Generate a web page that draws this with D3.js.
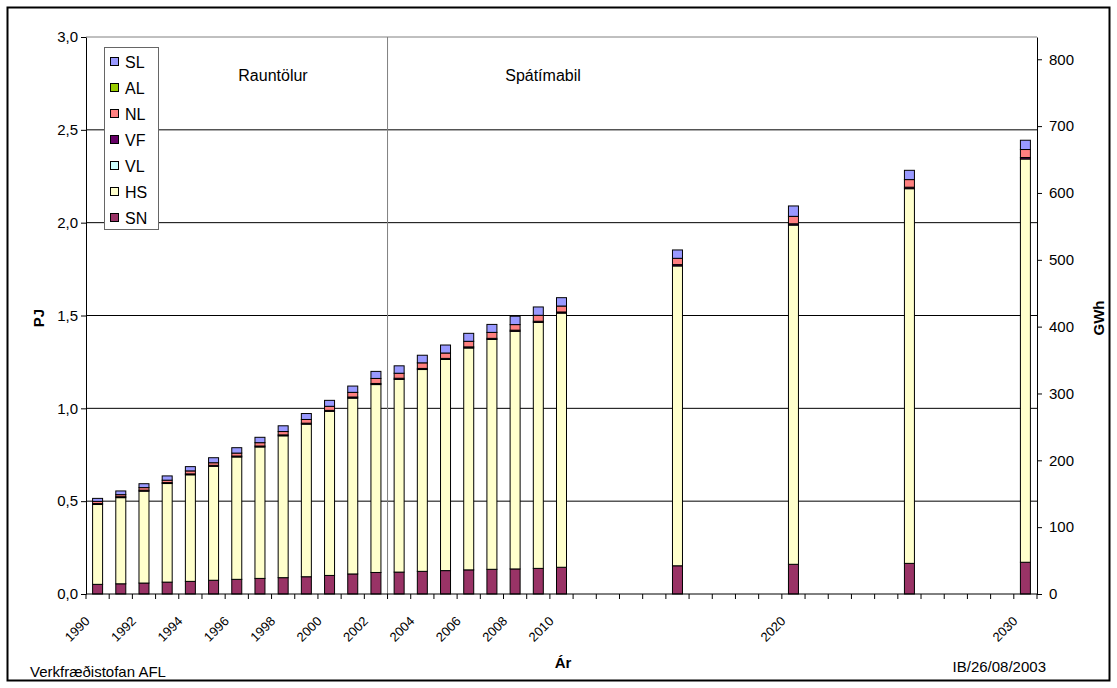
<!DOCTYPE html>
<html>
<head>
<meta charset="utf-8">
<script src="https://cdn.jsdelivr.net/npm/d3@7"></script>
<style>
  body { margin: 0; background: #fff; }
  svg { display: block; }
  text { font-family: "Liberation Sans", Arial, sans-serif; fill: #000; }
</style>
</head>
<body>
<svg id="chart" width="1117" height="688"></svg>
<script>
// Category axis: every year 1990-2030, bars only where values exist
const categories = d3.range(1990, 2031).map(String);
const years = ["1990","1991","1992","1993","1994","1995","1996","1997","1998","1999","2000",
               "2001","2002","2003","2004","2005","2006","2007","2008","2009","2010",
               "2015","2020","2025","2030"];

// Energy use by sector, PJ
const SN = [0.052,0.055,0.059,0.064,0.068,0.074,0.079,0.084,0.088,0.093,0.100,
            0.108,0.116,0.118,0.122,0.126,0.130,0.133,0.135,0.138,0.144,
            0.152,0.160,0.165,0.171];
const HS = [0.430,0.464,0.495,0.531,0.574,0.614,0.659,0.708,0.764,0.822,0.884,
            0.947,1.012,1.038,1.087,1.137,1.195,1.238,1.280,1.325,1.369,
            1.615,1.827,2.018,2.172];
const VL = [0,0,0,0,0,0,0,0,0,0,0,0,0,0,0,0,0,0,0,0,0,0,0,0,0];
const VF = [0.005,0.005,0.005,0.005,0.005,0.005,0.005,0.005,0.005,0.005,0.005,
            0.006,0.006,0.006,0.006,0.006,0.006,0.006,0.006,0.006,0.006,
            0.007,0.007,0.008,0.008];
const NL = [0.012,0.011,0.014,0.013,0.016,0.014,0.016,0.018,0.018,0.020,0.022,
            0.025,0.027,0.027,0.030,0.029,0.030,0.032,0.030,0.032,0.032,
            0.034,0.040,0.041,0.043];
const AL = [0,0,0,0,0,0,0,0,0,0,0,0,0,0,0,0,0,0,0,0,0,0,0,0,0];
const SL = [0.016,0.020,0.021,0.023,0.023,0.027,0.029,0.029,0.031,0.032,0.032,
            0.034,0.038,0.040,0.041,0.043,0.043,0.043,0.045,0.045,0.045,
            0.045,0.056,0.050,0.050];

const seriesKeys = ["SN","HS","VL","VF","NL","AL","SL"];
const seriesValues = { SN, HS, VL, VF, NL, AL, SL };
const seriesColors = { SL:"#9999FF", AL:"#99CC00", NL:"#FF8080", VF:"#660066",
                       VL:"#CCFFFF", HS:"#FFFFCC", SN:"#993366" };

const pjTicks = [0, 0.5, 1.0, 1.5, 2.0, 2.5, 3.0];
const gwhTicks = [0, 100, 200, 300, 400, 500, 600, 700, 800];
const yearLabels = ["1990","1992","1994","1996","1998","2000","2002","2004","2006","2008","2010","2020","2030"];

const rows = years.map((yr, i) => {
  const r = { year: yr };
  seriesKeys.forEach(k => r[k] = seriesValues[k][i]);
  return r;
});

const svg = d3.select("#chart");
const plot = { left: 86, right: 1037, top: 37, bottom: 594 };

// outer chart frame
svg.append("rect")
  .attr("x", 7.5).attr("y", 7.5).attr("width", 1102).attr("height", 673)
  .attr("fill", "#fff").attr("stroke", "#000").attr("stroke-width", 2);

const x = d3.scaleBand().domain(categories).range([plot.left, plot.right]).padding(0);
const y = d3.scaleLinear().domain([0, 3]).range([plot.bottom, plot.top]);
// 1 PJ = 1e15 J / 3.6e12 J per GWh
const y2 = d3.scaleLinear().domain([0, 3 * 1e15 / 3.6e12]).range([plot.bottom, plot.top]);

const isLocale = d3.formatLocale({ decimal: ",", thousands: ".", grouping: [3], currency: ["", " kr."] });
const fmtPJ = isLocale.format(".1f");

// horizontal gridlines
svg.append("g").selectAll("line")
  .data(pjTicks.filter(v => v > 0 && v < 3))
  .join("line")
  .attr("x1", plot.left).attr("x2", plot.right)
  .attr("y1", d => y(d)).attr("y2", d => y(d))
  .attr("stroke", "#000").attr("stroke-width", 1);

// plot area top border
svg.append("line")
  .attr("x1", plot.left).attr("x2", plot.right)
  .attr("y1", y(3)).attr("y2", y(3))
  .attr("stroke", "#808080").attr("stroke-width", 1);

// divider between actual figures and forecast period
const splitX = x("2003");
svg.append("line")
  .attr("x1", splitX).attr("x2", splitX)
  .attr("y1", plot.top).attr("y2", plot.bottom)
  .attr("stroke", "#808080").attr("stroke-width", 1);

// stacked bars
const stacked = d3.stack().keys(seriesKeys)(rows);
const barW = 10;
svg.append("g").selectAll("g")
  .data(stacked)
  .join("g")
  .attr("fill", d => seriesColors[d.key])
  .selectAll("rect")
  .data(d => d)
  .join("rect")
  .attr("x", d => x(d.data.year) + (x.bandwidth() - barW) / 2)
  .attr("y", d => y(d[1]))
  .attr("width", barW)
  .attr("height", d => y(d[0]) - y(d[1]))
  .attr("stroke", "#000").attr("stroke-width", 1);

// left axis (PJ)
const leftAxis = svg.append("g")
  .attr("transform", `translate(${plot.left},0)`)
  .call(d3.axisLeft(y).tickValues(pjTicks).tickFormat(fmtPJ).tickSize(5).tickSizeOuter(0).tickPadding(3));
leftAxis.selectAll("text").style("font-size", "15px");
leftAxis.selectAll("line, path").attr("stroke", "#000");

// right axis (GWh)
const rightAxis = svg.append("g")
  .attr("transform", `translate(${plot.right},0)`)
  .call(d3.axisRight(y2).tickValues(gwhTicks).tickFormat(d3.format("d")).tickSize(5).tickSizeOuter(0).tickPadding(7));
rightAxis.selectAll("text").style("font-size", "15px");
rightAxis.selectAll("line, path").attr("stroke", "#000");

// bottom axis: ticks between categories
const xAxis = svg.append("g");
xAxis.append("line")
  .attr("x1", plot.left).attr("x2", plot.right)
  .attr("y1", plot.bottom).attr("y2", plot.bottom)
  .attr("stroke", "#000");
const boundaries = categories.map(c => x(c)).concat([x.range()[1]]);
xAxis.selectAll("line.tick")
  .data(boundaries)
  .join("line")
  .attr("class", "tick")
  .attr("x1", d => d).attr("x2", d => d)
  .attr("y1", plot.bottom).attr("y2", plot.bottom + 5)
  .attr("stroke", "#000");
xAxis.selectAll("text")
  .data(yearLabels)
  .join("text")
  .attr("transform", d => `translate(${x(d) + x.bandwidth() / 2 - 7},622) rotate(-45)`)
  .attr("text-anchor", "end")
  .style("font-size", "13px")
  .text(d => d);

// axis titles
svg.append("text")
  .attr("transform", `translate(44,318) rotate(-90)`)
  .attr("text-anchor", "middle")
  .style("font-size", "15px").style("font-weight", "bold")
  .text("PJ");
svg.append("text")
  .attr("transform", `translate(1104,318) rotate(-90)`)
  .attr("text-anchor", "middle")
  .style("font-size", "15px").style("font-weight", "bold")
  .text("GWh");
svg.append("text")
  .attr("x", 563).attr("y", 668)
  .attr("text-anchor", "middle")
  .style("font-size", "15px").style("font-weight", "bold")
  .text("Ár");

// period labels
svg.append("text")
  .attr("x", 273).attr("y", 81)
  .attr("text-anchor", "middle")
  .style("font-size", "16px")
  .text("Rauntölur");
svg.append("text")
  .attr("x", 543).attr("y", 81)
  .attr("text-anchor", "middle")
  .style("font-size", "16px")
  .text("Spátímabil");

// footer texts
svg.append("text")
  .attr("x", 30).attr("y", 677)
  .style("font-size", "15px")
  .text("Verkfræðistofan AFL");
svg.append("text")
  .attr("x", 1046).attr("y", 672)
  .attr("text-anchor", "end")
  .style("font-size", "15px")
  .text("IB/26/08/2003");

// legend
const legendKeys = seriesKeys.slice().reverse();
const legend = svg.append("g");
legend.append("rect")
  .attr("x", 104.5).attr("y", 47.5).attr("width", 54).attr("height", 182)
  .attr("fill", "#fff").attr("stroke", "#666").attr("stroke-width", 1);
const items = legend.selectAll("g.item")
  .data(legendKeys)
  .join("g")
  .attr("class", "item")
  .attr("transform", (d, i) => `translate(0,${62 + i * 26})`);
items.append("rect")
  .attr("x", 110.5).attr("y", -4.5).attr("width", 8).attr("height", 8)
  .attr("fill", d => seriesColors[d])
  .attr("stroke", "#000").attr("stroke-width", 1);
items.append("text")
  .attr("x", 125).attr("y", 5.5)
  .style("font-size", "16px")
  .text(d => d);
</script>
</body>
</html>
